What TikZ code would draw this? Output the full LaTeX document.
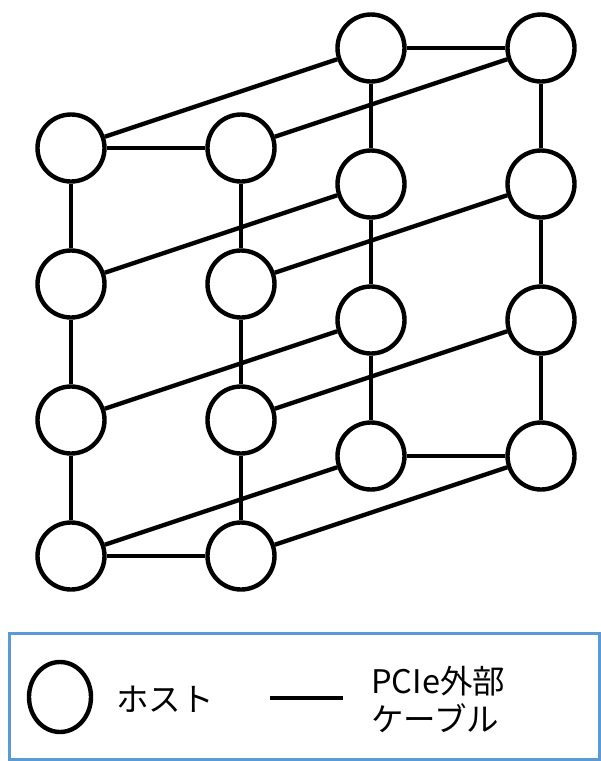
\documentclass[tikz,border=0pt]{standalone}
\usepackage{fontspec}
\usetikzlibrary{shapes.geometric}
\newfontfamily\jpfont{Noto Sans CJK JP}
\definecolor{legendblue}{HTML}{5B9BD5}
\pgfdeclarelayer{back}
\pgfsetlayers{back,main}
\begin{document}
\begin{tikzpicture}[x=1pt,y=-1pt,
  host/.style={circle,draw=black,line width=4.4pt,fill=white,minimum size=67pt,inner sep=0pt},
  cable/.style={draw=black,line width=4.4pt},
  label/.style={font=\jpfont\fontsize{32.5}{38}\selectfont,inner sep=0pt,anchor=west}]
\useasboundingbox (0,0) rectangle (601,761);
% front face nodes (f<col><row>) and back face nodes (b<col><row>)
\foreach \c/\x in {1/71,2/241}{
  \foreach \r/\y in {1/148,2/284,3/420,4/556}{
    \node[host] (f\c\r) at (\x,\y) {};
  }
}
\foreach \c/\x in {1/371,2/541}{
  \foreach \r/\y in {1/48,2/184,3/320,4/456}{
    \node[host] (b\c\r) at (\x,\y) {};
  }
}
% cables, kept behind the hosts
\begin{pgfonlayer}{back}
\foreach \p in {f,b}{
  \draw[cable] (\p11) -- (\p21);
  \draw[cable] (\p14) -- (\p24);
  \foreach \c in {1,2}{
    \draw[cable] (\p\c1) -- (\p\c2);
    \draw[cable] (\p\c2) -- (\p\c3);
    \draw[cable] (\p\c3) -- (\p\c4);
  }
}
\foreach \c in {1,2}{
  \foreach \r in {1,2,3,4}{
    \draw[cable] (f\c\r) -- (b\c\r);
  }
}
\end{pgfonlayer}
% legend
\node[draw=legendblue,line width=3pt,minimum width=590pt,minimum height=126pt,inner sep=0pt] (legend) at (304,696) {};
\node[ellipse,draw=black,line width=4.4pt,minimum width=62pt,minimum height=70pt,inner sep=0pt] (lhost) at (60,697) {};
\node[label] (lhosttext) at (116,699) {ホスト};
\coordinate (lc1) at (270,698);
\coordinate (lc2) at (343,698);
\draw[cable] (lc1) -- (lc2);
\node[label,align=left] (lcabletext) at (371,699) {PCIe外部\\ケーブル};
\end{tikzpicture}
\end{document}
